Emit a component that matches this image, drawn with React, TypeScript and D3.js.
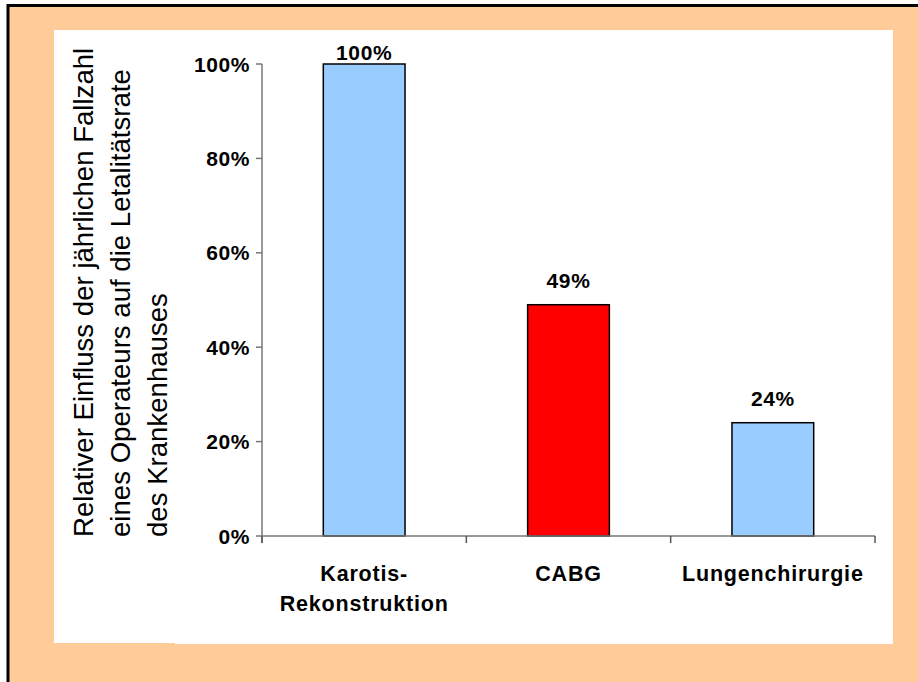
import React from "react";
import * as d3 from "d3";

const categories: string[][] = [["Karotis-", "Rekonstruktion"], ["CABG"], ["Lungenchirurgie"]];
const values: number[] = [100, 49, 24];
const barColors: string[] = ["#99CCFF", "#FF0000", "#99CCFF"];
const yTicks: number[] = [0, 20, 40, 60, 80, 100];
const titleLines: string[] = [
  "Relativer Einfluss der jährlichen Fallzahl",
  "eines Operateurs auf die Letalitätsrate",
  "des Krankenhauses",
];

export default function App() {
  const W = 918, H = 682;
  const keys = categories.map((c) => c.join(" "));
  const x = d3.scaleBand<string>().domain(keys).range([262, 875]).padding(0);
  const y = d3.scaleLinear().domain([0, 100]).range([536, 64]);
  const bw = x.bandwidth() * 0.4;
  const boundaries = [...keys.map((k) => x(k) as number), 875];
  const font = "'Liberation Sans', Arial, Helvetica, sans-serif";

  return (
    <div style={{ position: "absolute", left: 0, top: 0 }}>
      <svg width={W} height={H} style={{ display: "block" }}>
        <rect x={8} y={5.5} width={W + 20} height={H + 20} fill="#FFCC99" stroke="#000" strokeWidth={3} />
        <rect x={54} y={30} width={121} height={613} fill="#fff" />
        <rect x={175} y={30} width={718} height={614} fill="#fff" />

        {/* y-axis title */}
        {titleLines.map((t, i) => (
          <text
            key={i}
            transform={`translate(${93 + i * 37},537) rotate(-90)`}
            fontFamily={font}
            fontSize={27.6}
            fill="#000"
          >
            {t}
          </text>
        ))}

        {/* bars */}
        {values.map((v, i) => {
          const cx = (x(keys[i]) as number) + x.bandwidth() / 2;
          return (
            <rect
              key={i}
              x={cx - bw / 2}
              y={y(v)}
              width={bw}
              height={y(0) - y(v)}
              fill={barColors[i]}
              stroke="#000"
              strokeWidth={1.5}
            />
          );
        })}

        {/* value labels */}
        {values.map((v, i) => {
          const cx = (x(keys[i]) as number) + x.bandwidth() / 2;
          const ly = Math.max(y(v) - 17, 60);
          return (
            <text
              key={i}
              x={cx}
              y={ly}
              textAnchor="middle"
              fontFamily={font}
              fontWeight="bold"
              fontSize={21}
              letterSpacing={0.6}
            >
              {v}%
            </text>
          );
        })}

        {/* y axis */}
        <line x1={262} x2={262} y1={64} y2={543} stroke="#777" strokeWidth={1.5} />
        {yTicks.map((t) => (
          <g key={t}>
            <line x1={256} x2={262} y1={y(t)} y2={y(t)} stroke="#777" strokeWidth={1.5} />
            <text
              x={250}
              y={y(t)}
              dy="0.36em"
              textAnchor="end"
              fontFamily={font}
              fontWeight="bold"
              fontSize={21}
              letterSpacing={0.6}
            >
              {t}%
            </text>
          </g>
        ))}

        {/* x axis */}
        <line x1={262} x2={875} y1={536} y2={536} stroke="#777" strokeWidth={1.5} />
        {boundaries.map((b, i) => (
          <line key={i} x1={b} x2={b} y1={536} y2={543} stroke="#555" strokeWidth={1.5} />
        ))}
        {categories.map((lines, i) => {
          const cx = (x(keys[i]) as number) + x.bandwidth() / 2;
          return (
            <text
              key={i}
              textAnchor="middle"
              fontFamily={font}
              fontWeight="bold"
              fontSize={21.5}
              letterSpacing={0.8}
            >
              {lines.map((l, j) => (
                <tspan key={j} x={cx} y={581 + j * 30}>
                  {l}
                </tspan>
              ))}
            </text>
          );
        })}
      </svg>
    </div>
  );
}
